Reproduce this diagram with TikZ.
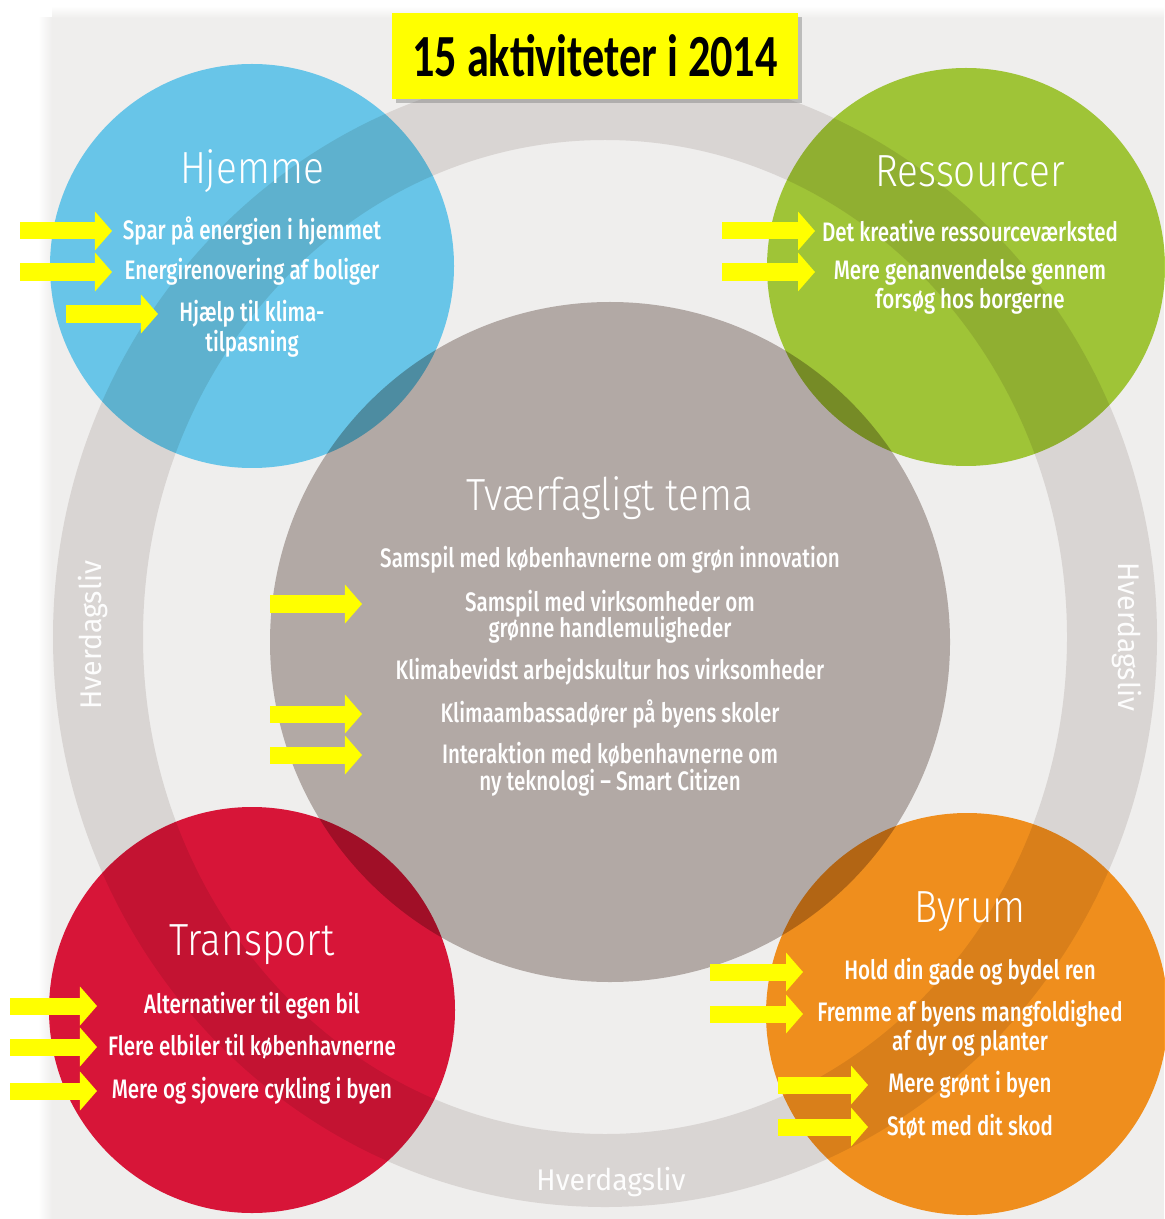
\documentclass[tikz,border=0pt]{standalone}
\usepackage{fontspec}
\setmainfont{Fira Sans}
\newfontfamily\headfont{Fira Sans}[UprightFont=* Light, FakeStretch=0.86]
\newfontfamily\itemfont{Fira Sans}[UprightFont=* Medium, FakeStretch=0.77]
\newfontfamily\ringfont{Fira Sans}[FakeStretch=0.95]
\newfontfamily\titlefont{Carlito}[FakeStretch=0.74]
\usetikzlibrary{positioning, arrows.meta, shadows}

\definecolor{bggray}{HTML}{EFEEED}
\definecolor{ringgray}{HTML}{D9D5D3}
\definecolor{temagray}{HTML}{B2A9A5}
\definecolor{hjblue}{HTML}{6FD4FA}
\definecolor{rsgreen}{HTML}{AAD23C}
\definecolor{trred}{HTML}{E6173D}
\definecolor{byorange}{HTML}{FF9920}
\definecolor{markyellow}{HTML}{FFFF00}

\begin{document}
\begin{tikzpicture}[
    x=0.01cm, y=-0.01cm,
    head/.style={font=\headfont\fontsize{12.8}{14}\selectfont, text=white, inner sep=0pt},
    item/.style={font=\itemfont\fontsize{7.6}{9}\selectfont, text=white, inner sep=0pt},
    ringtext/.style={font=\ringfont\fontsize{8.5}{10}\selectfont, text=white!95!ringgray, inner sep=0pt},
    yarrow/.style={draw=markyellow, line width=0.17cm, -{Triangle[length=0.17cm, width=0.38cm]}},
    titlebox/.style={fill=markyellow, minimum width=4.05cm, minimum height=0.85cm,
        font=\titlefont\bfseries\fontsize{17}{19}\selectfont,
        drop shadow={shadow xshift=0.04cm, shadow yshift=-0.04cm, opacity=0.45}}
    ]
\useasboundingbox (0,0) rectangle (1164,1219);

% baggrund og ring
\fill[bggray] (52,18) rectangle (1164,1219);
\shade[left color=white, right color=bggray] (38,18) rectangle (52,1219);
\shade[top color=white, bottom color=bggray] (52,6) rectangle (1164,18);
\fill[ringgray, even odd rule] (605,637) ellipse [x radius=552, y radius=570]
                               (605,637) ellipse [x radius=462, y radius=497];
\coordinate (tv) at (610,642);
\fill[temagray] (tv) circle (340);

% de fire temaer
\coordinate (hj) at (252,266);
\coordinate (rs) at (966,267);
\coordinate (tr) at (252,1010);
\coordinate (by) at (967,1014);
\begin{scope}[blend mode=multiply]
\fill[hjblue] (hj) circle (202);
\fill[rsgreen] (rs) circle (199);
\fill[trred] (tr) circle (203);
\fill[byorange] (by) circle (201);
\end{scope}

\node[ringtext, rotate=90] (hv1) at (93,635) {Hverdagsliv};
\node[ringtext, rotate=-90] (hv2) at (1127,637) {Hverdagsliv};
\node[ringtext] (hv3) at (611,1182) {Hverdagsliv};

% Hjemme
\node[head] (hjh) at (252,171) {Hjemme};
\node[item] (hj1) at (252,231) {Spar på energien i hjemmet};
\node[item] (hj2) at (252,272) {Energirenovering af boliger};
\node[item] (hj3) at (252,314) {Hjælp til klima-};
\node[item] (hj3b) at (252,344) {tilpasning};

% Ressourcer
\node[head] (rsh) at (970,171) {Ressourcer};
\node[item] (rs1) at (970,231) {Det kreative ressourceværksted};
\node[item] (rs2) at (970,272) {Mere genanvendelse gennem};
\node[item] (rs2b) at (970,301) {forsøg hos borgerne};

% Tværfagligt tema
\node[head] (tvh) at (610,498) {Tværfagligt tema};
\node[item] (tv1) at (610,560) {Samspil med københavnerne om grøn innovation};
\node[item] (tv2) at (610,604) {Samspil med virksomheder om};
\node[item] (tv2b) at (610,630) {grønne handlemuligheder};
\node[item] (tv3) at (610,672) {Klimabevidst arbejdskultur hos virksomheder};
\node[item] (tv4) at (610,714) {Klimaambassadører på byens skoler};
\node[item] (tv5) at (610,755) {Interaktion med københavnerne om};
\node[item] (tv5b) at (610,783) {ny teknologi – Smart Citizen};

% Transport
\node[head] (trh) at (252,945) {Transport};
\node[item] (tr1) at (252,1006) {Alternativer til egen bil};
\node[item] (tr2) at (252,1047) {Flere elbiler til københavnerne};
\node[item] (tr3) at (252,1091) {Mere og sjovere cykling i byen};

% Byrum
\node[head] (byh) at (970,912) {Byrum};
\node[item] (by1) at (970,972) {Hold din gade og bydel ren};
\node[item] (by2) at (970,1014) {Fremme af byens mangfoldighed};
\node[item] (by2b) at (970,1043) {af dyr og planter};
\node[item] (by3) at (970,1085) {Mere grønt i byen};
\node[item] (by4) at (970,1127) {Støt med dit skod};

% gule pile
\draw[yarrow] (20,0 |- hj1) -- (112,0 |- hj1);
\draw[yarrow] (20,0 |- hj2) -- (112,0 |- hj2);
\draw[yarrow] (66,0 |- hj3) -- (158,0 |- hj3);
\draw[yarrow] (722,0 |- rs1) -- (815,0 |- rs1);
\draw[yarrow] (722,0 |- rs2) -- (815,0 |- rs2);
\draw[yarrow] (270,0 |- tv2) -- (362,0 |- tv2);
\draw[yarrow] (270,0 |- tv4) -- (362,0 |- tv4);
\draw[yarrow] (270,0 |- tv5) -- (362,0 |- tv5);
\draw[yarrow] (10,0 |- tr1) -- (97,0 |- tr1);
\draw[yarrow] (10,0 |- tr2) -- (97,0 |- tr2);
\draw[yarrow] (10,0 |- tr3) -- (97,0 |- tr3);
\draw[yarrow] (710,0 |- by1) -- (803,0 |- by1);
\draw[yarrow] (710,0 |- by2) -- (803,0 |- by2);
\draw[yarrow] (778,0 |- by3) -- (868,0 |- by3);
\draw[yarrow] (778,0 |- by4) -- (868,0 |- by4);

% overskrift
\node[titlebox] (title) at (595,56) {15 aktiviteter i 2014};
\end{tikzpicture}
\end{document}
